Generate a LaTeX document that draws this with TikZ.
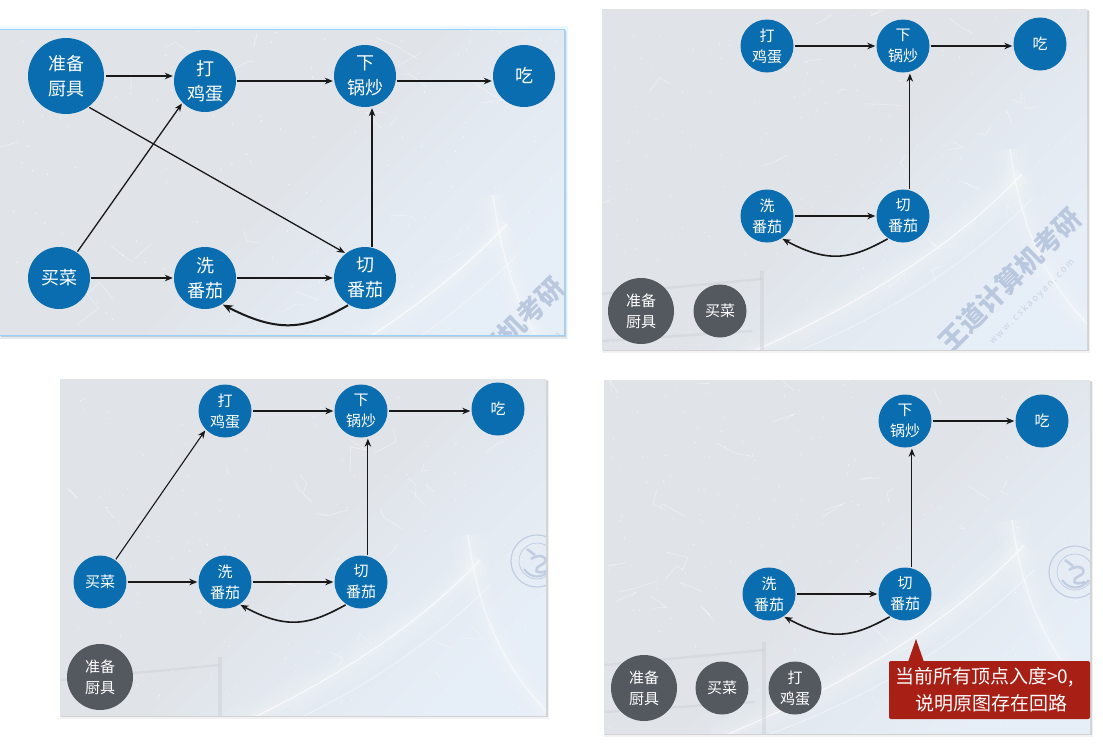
\documentclass[tikz,border=0pt]{standalone}
\usepackage{fontspec}
\newfontfamily\cjk{Noto Sans CJK SC}
\usetikzlibrary{arrows.meta}
\definecolor{nodeblue}{HTML}{0A6DAF}
\definecolor{nodegray}{HTML}{53595F}
\definecolor{panelA}{HTML}{E0E4E9}
\definecolor{panelB}{HTML}{E6EEF7}
\definecolor{wmark}{HTML}{B3C2DB}
\definecolor{beam}{HTML}{C9CCD2}
\definecolor{calloutred}{HTML}{A81F15}
\pgfdeclareverticalshading{bgsh}{100bp}{color(0bp)=(panelB); color(24bp)=(panelB); color(38bp)=(panelA!45!panelB); color(50bp)=(panelA); color(100bp)=(panelA)}
\tikzset{
  vbig/.style={circle,fill=nodeblue,text=white,minimum size=62pt,inner sep=0pt,align=center,font=\cjk\fontsize{18}{25}\selectfont},
  vbigger/.style={vbig,minimum size=76pt},
  vsmall/.style={circle,fill=nodeblue,text=white,minimum size=53pt,inner sep=0pt,align=center,font=\cjk\fontsize{15}{21}\selectfont},
  gonesmall/.style={vsmall,fill=nodegray},
  gonebig/.style={vsmall,fill=nodegray,minimum size=66pt},
  edge/.style={draw=black!90,line width=1.1pt,-{Stealth[length=8pt,width=6.5pt]},shorten >=1pt,shorten <=1pt},
  edgebig/.style={edge,line width=1.3pt},
  loopedge/.style={edge,line width=1.6pt},
  loopbig/.style={edge,line width=2pt,-{Stealth[length=10pt,width=8pt]}},
  sealmark/.style={draw=wmark,opacity=.7,line width=1.2pt},
}
\def\sealX{477}\def\sealY{166}
\newcommand\panelbg[8]{%
  \fill[black,opacity=.05] (#1,#2+2) rectangle (#3+3,#4+4);
  \fill[black,opacity=.13] (#1+1,#2+1) rectangle (#3+1.5,#4+1.5);
  \begin{scope}
    \clip (#1,#2) rectangle (#3,#4);
    \shade[shading=bgsh,shading angle=45] (#1,#2) rectangle (#3,#4);
    \begin{scope}[shift={(#5,#6)},x=#7pt,y=-#7pt]
      \foreach \w/\o in {34/.05,24/.06,14/.08,7/.10}{
        \draw[white,opacity=\o,line width=\w pt] (110,360) .. controls (230,310) and (340,250) .. (420,165);
        \draw[white,opacity=\o,line width=\w pt] (408,140) .. controls (420,230) and (450,280) .. (495,325);
      }
      \draw[white,opacity=.7,line width=1.1pt] (110,360) .. controls (230,310) and (340,250) .. (420,165);
      \draw[white,opacity=.45,line width=.8pt] (150,360) .. controls (260,320) and (350,270) .. (430,190);
      \draw[white,opacity=.55,line width=1.2pt] (408,140) .. controls (420,230) and (450,280) .. (495,325);
      \draw[beam,opacity=.35,line width=2.5pt] (0,285) -- (160,270) (0,332) -- (150,322);
      \draw[beam,opacity=.4,line width=4pt] (160,262) -- (160,370);
      \pgfmathsetseed{#8}
      \foreach \i in {1,...,26}{
        \pgfmathsetmacro\ax{rnd*470}\pgfmathsetmacro\ay{rnd*280}
        \pgfmathsetmacro\bx{\ax+rnd*44-22}\pgfmathsetmacro\by{\ay+rnd*30-15}
        \pgfmathsetmacro\cx{\bx+rnd*44-22}\pgfmathsetmacro\cy{\by+rnd*30-15}
        \draw[white,opacity=.55,line width=.4pt] (\ax,\ay) -- (\bx,\by) -- (\cx,\cy);
      }
      \foreach \i in {1,...,170}{
        \pgfmathsetmacro\ax{rnd*486}\pgfmathsetmacro\ay{rnd*350}
        \fill[white,opacity=.65] (\ax,\ay) circle (.6);
      }
\ifnum#8<20
      \node[rotate=45,text=wmark,opacity=.85,font=\cjk\bfseries\fontsize{27}{27}\selectfont] (wm#8) at (408,271) {王道计算机考研};
      \node[rotate=45,text=wmark,opacity=.6,font=\cjk\fontsize{9}{9}\selectfont] (wmb#8) at (430,293) {w w w . c s k a o y a n . c o m};
\else
      \begin{scope}[shift={(\sealX,\sealY)}]
        \draw[sealmark] (0,0) circle (26);
        \draw[sealmark,line width=.8pt] (0,0) circle (18);
        \draw[sealmark,line width=2.6pt] (-10,-12) -- (-2,-6);
        \draw[sealmark,line width=2.6pt] (-6,-2) .. controls (6,-10) and (14,0) .. (4,4) .. controls (-4,8) and (-2,14) .. (10,10);
        \draw[sealmark,line width=2.2pt] (-13,8) .. controls (-6,18) and (6,18) .. (14,8);
      \end{scope}
\fi
    \end{scope}
  \end{scope}
}
\begin{document}
\begin{tikzpicture}[x=1pt,y=-1pt]
\useasboundingbox (0,0) rectangle (1103,748);
\fill[white] (0,0) rectangle (1103,748);

% ---------- panel 1
\fill[blue!40!cyan,opacity=.07] (0,26) rectangle (568,339);
\panelbg{0}{29}{564}{335}{13}{30}{1.176}{1}
\draw[blue!45!cyan!40!white,line width=.8pt] (0,29) -- (564,29) -- (564,335) -- (0,335);
\node[vbigger] (azb) at (66,76) {准备\\厨具};
\node[vbig] (ada) at (205,81) {打\\鸡蛋};
\node[vbig] (axg) at (365,76) {下\\锅炒};
\node[vbig] (ach) at (524,76) {吃};
\node[vbig] (amc) at (59,278) {买菜};
\node[vbig] (axi) at (205,278) {洗\\番茄};
\node[vbig] (aqi) at (365,278) {切\\番茄};
\draw[edgebig] (azb.east) ++(1,0) -- (azb.east -| ada.west);
\draw[edgebig] (ada.east) -- (ada.east -| axg.west);
\draw[edgebig] (ada.east -| axg.east) -- (ada.east -| ach.west);
\draw[edgebig] (amc.55) -- (ada.224);
\draw[edgebig] (azb.-54) -- (aqi.128);
\draw[edgebig] (amc.east) -- (axi.west);
\draw[edgebig] (axi.east) -- (aqi.west);
\draw[edgebig] (aqi.77) -- (aqi.77 |- axg.south);
\draw[loopbig] (aqi.-121) .. controls +(-42,24) and +(58,30) .. (axi.-57);

% ---------- panel 2
\panelbg{602}{9}{1087}{349}{602}{9}{1}{2}
\node[vsmall] (bda) at (767,46) {打\\鸡蛋};
\node[vsmall] (bxg) at (903,46) {下\\锅炒};
\node[vsmall] (bch) at (1040,44) {吃};
\node[vsmall] (bxi) at (767,216) {洗\\番茄};
\node[vsmall] (bqi) at (903,216) {切\\番茄};
\node[gonebig] (bzb) at (641,311) {准备\\厨具};
\node[gonesmall] (bmc) at (720,311) {买菜};
\draw[edge] (bda.east) -- (bxg.west);
\draw[edge] (bxg.east) -- (bxg.east -| bch.west);
\draw[edge] (bxi.east) -- (bqi.west);
\draw[edge] (bqi.75) -- (bqi.75 |- bxg.south);
\draw[loopedge] (bqi.-123) .. controls +(-36,20) and +(48,26) .. (bxi.-57);

% ---------- panel 3
\def\sealX{477}\def\sealY{166}
\panelbg{60}{379}{546}{715}{60}{395}{1}{21}
\node[vsmall] (cda) at (225,411) {打\\鸡蛋};
\node[vsmall] (cxg) at (361,411) {下\\锅炒};
\node[vsmall] (cch) at (498,409) {吃};
\node[vsmall] (cmc) at (100,582) {买菜};
\node[vsmall] (cxi) at (225,582) {洗\\番茄};
\node[vsmall] (cqi) at (361,582) {切\\番茄};
\node[gonebig] (czb) at (100,677) {准备\\厨具};
\draw[edge] (cda.east) -- (cxg.west);
\draw[edge] (cxg.east) -- (cxg.east -| cch.west);
\draw[edge] (cmc.55) -- (cda.224);
\draw[edge] (cmc.east) -- (cxi.west);
\draw[edge] (cxi.east) -- (cqi.west);
\draw[edge] (cqi.75) -- (cqi.75 |- cxg.south);
\draw[loopedge] (cqi.-123) .. controls +(-36,20) and +(48,26) .. (cxi.-57);

% ---------- panel 4
\def\sealX{471}\def\sealY{192}
\panelbg{604}{380}{1090}{733}{604}{380}{1}{22}
\node[vsmall] (dxg) at (905,421) {下\\锅炒};
\node[vsmall] (dch) at (1042,421) {吃};
\node[vsmall] (dxi) at (769,594) {洗\\番茄};
\node[vsmall] (dqi) at (905,594) {切\\番茄};
\node[gonebig] (dzb) at (644,688) {准备\\厨具};
\node[gonesmall] (dmc) at (722,688) {买菜};
\node[gonesmall] (dda) at (795,688) {打\\鸡蛋};
\draw[edge] (dxg.east) -- (dch.west);
\draw[edge] (dxi.east) -- (dqi.west);
\draw[edge] (dqi.75) -- (dqi.75 |- dxg.south);
\draw[loopedge] (dqi.-123) .. controls +(-36,20) and +(48,26) .. (dxi.-57);
\coordinate (tipc) at (916,639);
\fill[calloutred] (tipc) -- (924,662) -- (908,662) -- cycle;
\node[fill=calloutred,text=white,rounded corners=2pt,minimum width=201pt,minimum height=58pt,inner sep=0pt,align=left,font=\cjk\fontsize{19}{27}\selectfont] (call) at (989.5,690) {当前所有顶点入度>0,\hspace*{10pt}\\\hspace*{20pt}说明原图存在回路};
\end{tikzpicture}
\end{document}
